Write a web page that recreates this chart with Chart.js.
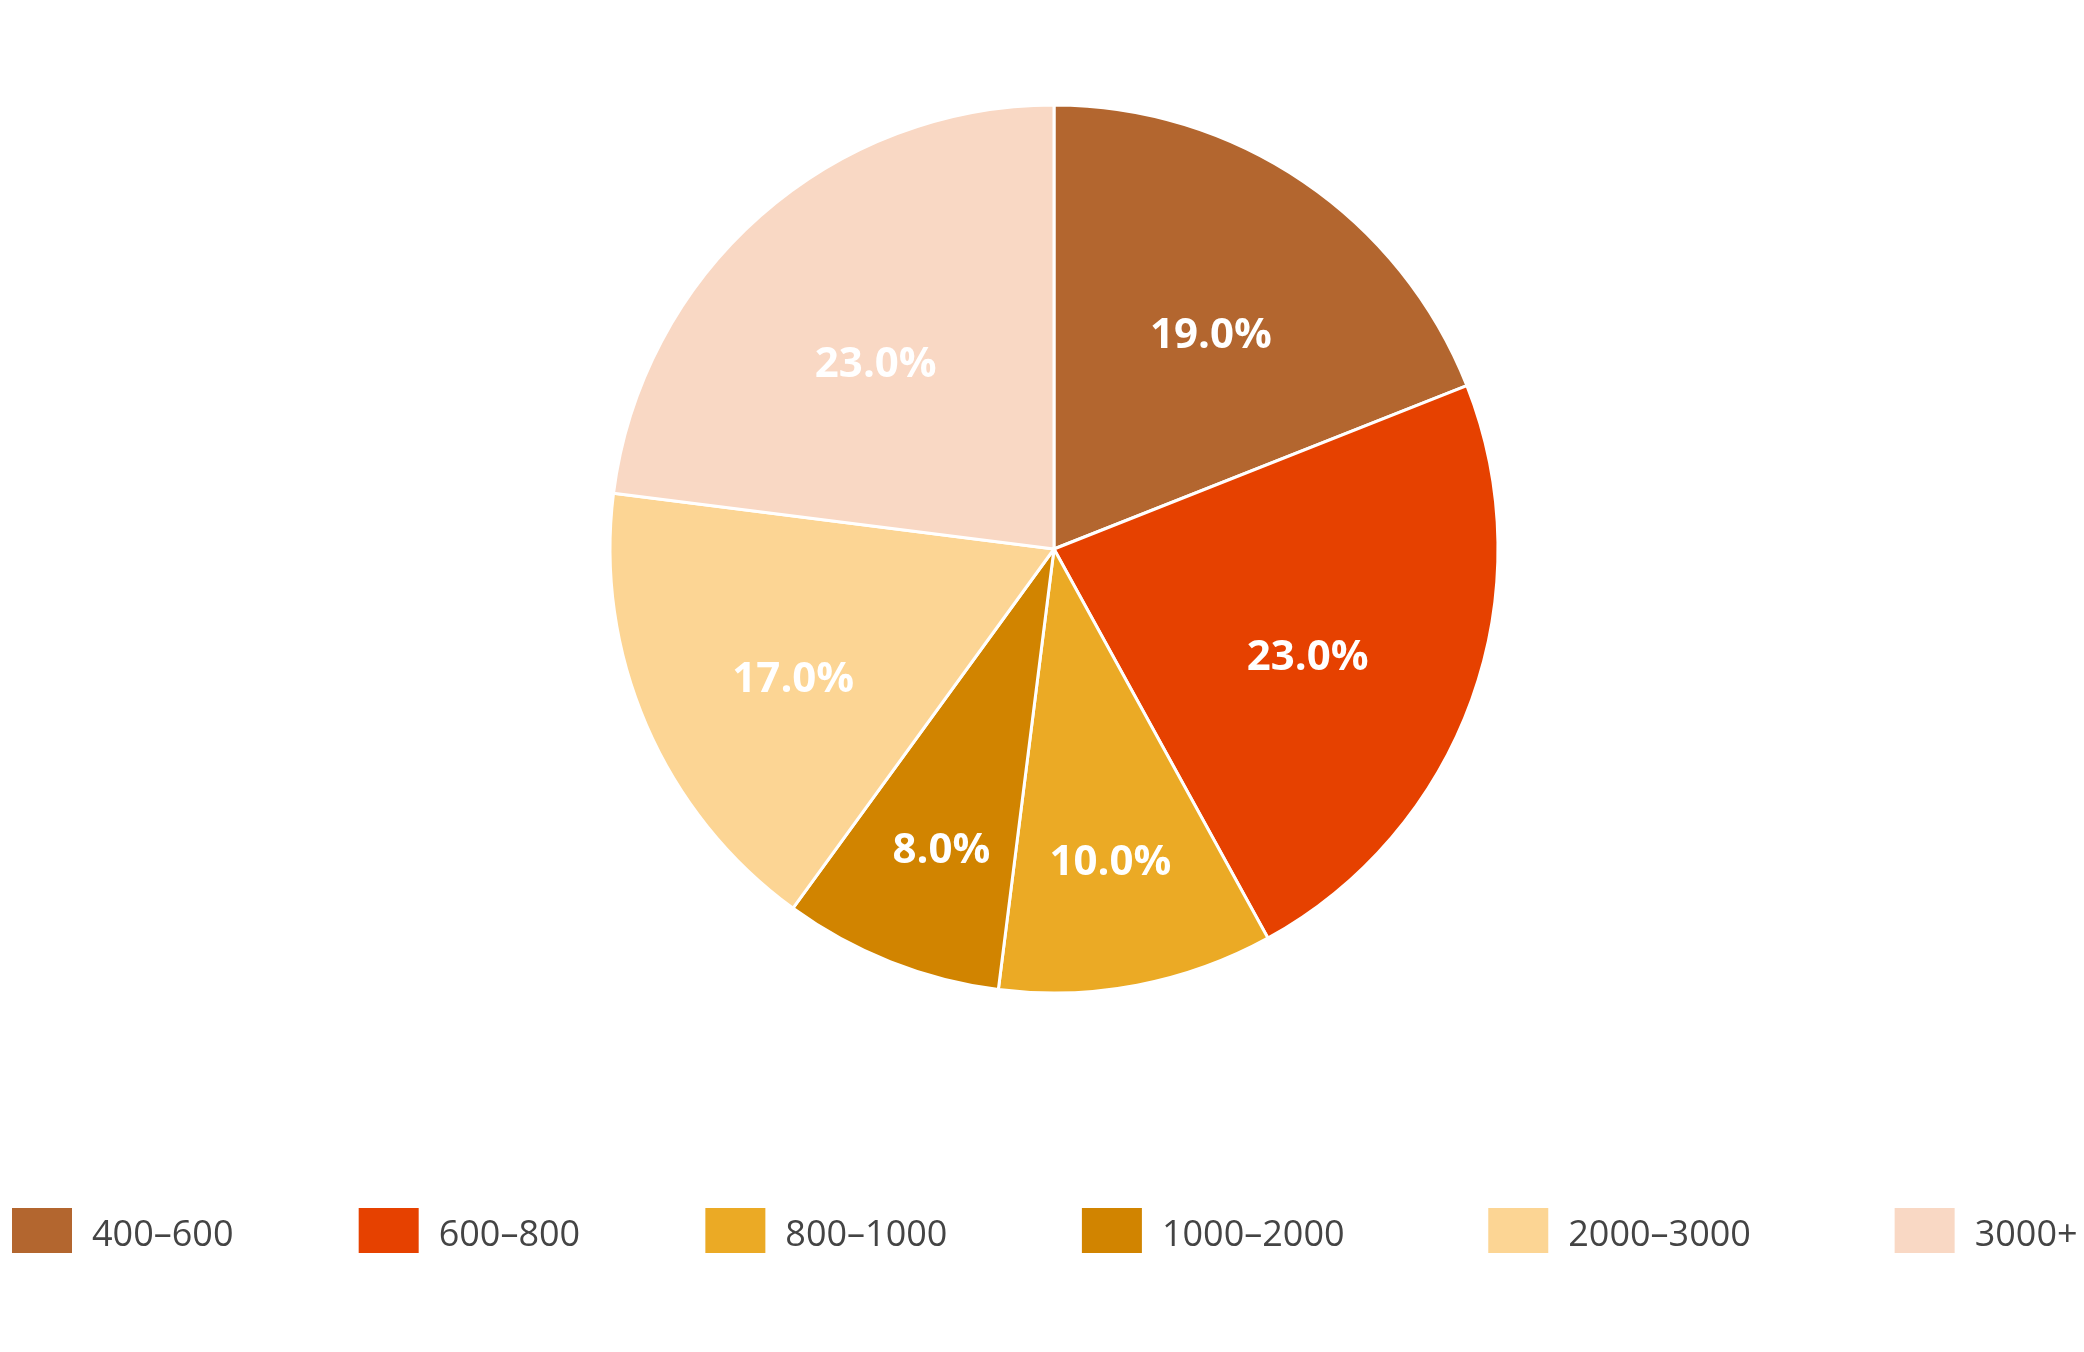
<!DOCTYPE html>
<html>
<head>
<meta charset="utf-8">
<script src="https://cdn.jsdelivr.net/npm/chart.js@4.4.1/dist/chart.umd.min.js"></script>
<style>
  html, body { margin: 0; padding: 0; background: #ffffff; }
  #wrap { width: 2084px; height: 1352px; position: relative; }
</style>
</head>
<body>
<div id="wrap"><canvas id="c" width="2084" height="1352"></canvas></div>
<script>
// ---- data ----
const categories = ['400–600', '600–800', '800–1000', '1000–2000', '2000–3000', '3000+'];
const shares = [19, 23, 10, 8, 17, 23];
const sliceColors = ['#B3662F', '#E64100', '#EBAA25', '#D18400', '#FCD594', '#F9D8C4'];

// ---- style constants ----
const LABEL_FONT = 'bold 42px "Open Sans"';
const LEGEND_FONT = '36px "Open Sans"';
const LEGEND_BOX_W = 60, LEGEND_BOX_H = 45, LEGEND_TEXT_OFFSET = 80;
const LEGEND_X0 = 12, LEGEND_BOX_TOP = 1208, LEGEND_TEXT_Y = 1236;

const sliceLabels = {
  id: 'sliceLabels',
  afterDatasetsDraw(chart) {
    const ctx = chart.ctx;
    const meta = chart.getDatasetMeta(0);
    const vals = chart.data.datasets[0].data;
    const total = vals.reduce((a, b) => a + b, 0);
    ctx.save();
    ctx.font = LABEL_FONT;
    ctx.fillStyle = '#ffffff';
    ctx.textAlign = 'center';
    ctx.textBaseline = 'middle';
    meta.data.forEach((arc, i) => {
      const p = arc.getProps(['x', 'y', 'startAngle', 'endAngle', 'outerRadius'], true);
      const mid = (p.startAngle + p.endAngle) / 2;
      const frac = vals[i] / total;
      const f = 0.733 - 0.548 * frac;
      const px = p.x + Math.cos(mid) * f * p.outerRadius;
      const py = p.y + Math.sin(mid) * f * p.outerRadius + 18;
      ctx.fillText((frac * 100).toFixed(1) + '%', px, py);
    });
    ctx.restore();
  }
};

const bottomLegend = {
  id: 'bottomLegend',
  afterDraw(chart) {
    const ctx = chart.ctx;
    const labels = chart.data.labels;
    const cols = chart.data.datasets[0].backgroundColor;
    ctx.save();
    ctx.font = LEGEND_FONT;
    ctx.textAlign = 'left';
    ctx.textBaseline = 'middle';
    let x = LEGEND_X0;
    labels.forEach((lab, i) => {
      ctx.fillStyle = cols[i];
      ctx.fillRect(x, LEGEND_BOX_TOP, LEGEND_BOX_W, LEGEND_BOX_H);
      ctx.fillStyle = '#444444';
      const tx = x + LEGEND_TEXT_OFFSET;
      ctx.fillText(lab, tx, LEGEND_TEXT_Y);
      const w = ctx.measureText(lab).width;
      x = tx + w + 61.5 + 0.45 * w;
    });
    ctx.restore();
  }
};

function draw() {
  new Chart(document.getElementById('c'), {
    type: 'pie',
    data: {
      labels: categories,
      datasets: [{
        data: shares,
        backgroundColor: sliceColors,
        borderColor: '#ffffff',
        borderWidth: 3,
        hoverOffset: 0
      }]
    },
    options: {
      responsive: false,
      devicePixelRatio: 1,
      animation: false,
      layout: { padding: { top: 103.5, bottom: 357.5, left: 554, right: 530 } },
      plugins: {
        legend: { display: false },
        tooltip: { enabled: false }
      }
    },
    plugins: [sliceLabels, bottomLegend]
  });
}

if (document.fonts && document.fonts.load) {
  Promise.all([
    document.fonts.load(LABEL_FONT),
    document.fonts.load(LEGEND_FONT)
  ]).then(draw, draw);
} else {
  draw();
}
</script>
</body>
</html>
